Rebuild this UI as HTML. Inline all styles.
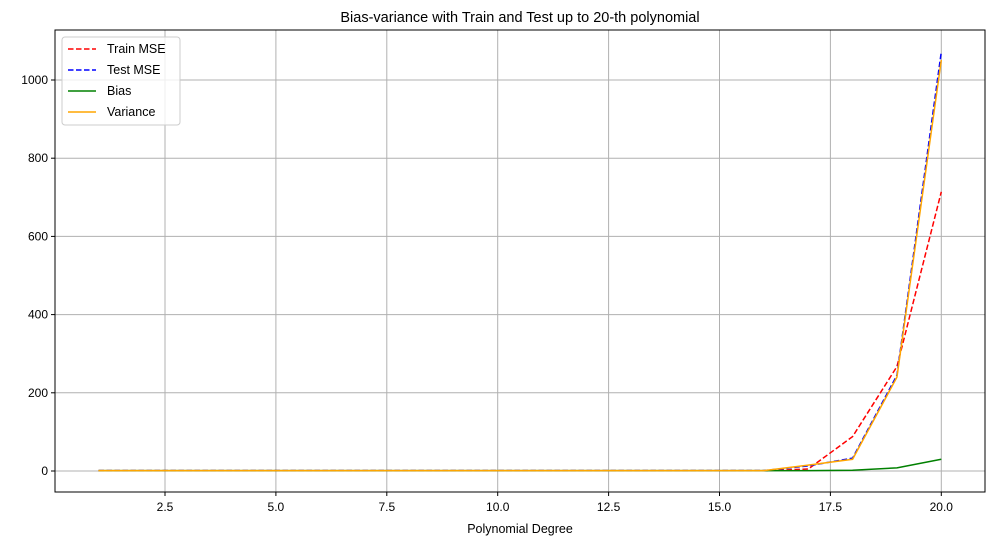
<!DOCTYPE html>
<html><head><meta charset="utf-8"><style>
body{margin:0;background:#fff;font-family:"Liberation Sans",sans-serif}
</style></head><body>
<svg id="chart" width="995" height="545" font-family="Liberation Sans, sans-serif">
<rect width="995" height="545" fill="#fff"/>
<text x="520" y="22" text-anchor="middle" font-size="14.5">Bias-variance with Train and Test up to 20-th polynomial</text>
<g id="grid"></g>
<g id="series"></g>
<rect x="55" y="30" width="930" height="462" fill="none" stroke="#000" stroke-width="1"/>
<g id="ticks" font-size="12"></g>
<text x="520" y="533" text-anchor="middle" font-size="12.5">Polynomial Degree</text>
<g>
<rect x="62" y="37" width="118" height="88" rx="3" fill="#fff" fill-opacity="0.8" stroke="#ccc"/>
<g><line x1="68" y1="49" x2="96" y2="49" stroke="red" stroke-width="1.5" stroke-dasharray="5.5,2.5"/><text x="107" y="53" font-size="12.5">Train MSE</text></g>
<g><line x1="68" y1="70" x2="96" y2="70" stroke="blue" stroke-width="1.5" stroke-dasharray="5.5,2.5"/><text x="107" y="74" font-size="12.5">Test MSE</text></g>
<g><line x1="68" y1="91" x2="96" y2="91" stroke="green" stroke-width="1.5"/><text x="107" y="95" font-size="12.5">Bias</text></g>
<g><line x1="68" y1="112" x2="96" y2="112" stroke="orange" stroke-width="1.5"/><text x="107" y="116" font-size="12.5">Variance</text></g>
</g>
</svg>
<script>
const degrees=[1,2,3,4,5,6,7,8,9,10,11,12,13,14,15,16,17,18,19,20];
const trainMSE=[1,1,1,1,1,1,1,1,1,1,1,1,1,1,1,1,5,88,267,714];
const testMSE=[1,1,1,1,1,1,1,1,1,1,1,1,1,1,1,1,13,33,245,1072];
const bias=[1,1,1,1,1,1,1,1,1,1,1,1,1,1,1,1,1,2,8,30];
const variance=[1,1,1,1,1,1,1,1,1,1,1,1,1,1,1,1,15,30,240,1051];
const xTicks=[2.5,5,7.5,10,12.5,15,17.5,20];
const xTickLabels=["2.5","5.0","7.5","10.0","12.5","15.0","17.5","20.0"];
const yTicks=[0,200,400,600,800,1000];
const NS="http://www.w3.org/2000/svg";
const xs=v=>165+(v-2.5)*44.36;
const ys=v=>471-v*0.391;
const grid=document.getElementById('grid'),ticks=document.getElementById('ticks'),ser=document.getElementById('series');
function mk(tag,attrs,parent){const e=document.createElementNS(NS,tag);for(const k in attrs)e.setAttribute(k,attrs[k]);parent.appendChild(e);return e;}
xTicks.forEach((t,i)=>{
  const g=mk('line',{x1:xs(t),x2:xs(t),y1:30,y2:492,stroke:'#b0b0b0','stroke-width':1},grid);
  
  
  mk('line',{x1:xs(t),x2:xs(t),y1:492,y2:496,stroke:'#000'},ticks);
  const l=mk('text',{x:xs(t),y:511,'text-anchor':'middle'},ticks);l.textContent=xTickLabels[i];
  
  
});
yTicks.forEach(t=>{
  const g=mk('line',{x1:55,x2:985,y1:ys(t),y2:ys(t),stroke:'#b0b0b0','stroke-width':1},grid);
  
  
  mk('line',{x1:51,x2:55,y1:ys(t),y2:ys(t),stroke:'#000'},ticks);
  const l=mk('text',{x:48,y:ys(t)+4,'text-anchor':'end'},ticks);l.textContent=String(t);
  
  
});
function line(vals,color,dash,name){
  const p=mk('polyline',{points:degrees.map((d,i)=>xs(d)+','+ys(vals[i])).join(' '),fill:'none',stroke:color,'stroke-width':1.5,'stroke-dasharray':dash||'none'},ser);
  
  
}
line(trainMSE,'red','5.5,2.5','train-mse-line');
line(testMSE,'blue','5.5,2.5','test-mse-line');
line(bias,'green',null,'bias-line');
line(variance,'orange',null,'variance-line');
</script>
</body></html>
